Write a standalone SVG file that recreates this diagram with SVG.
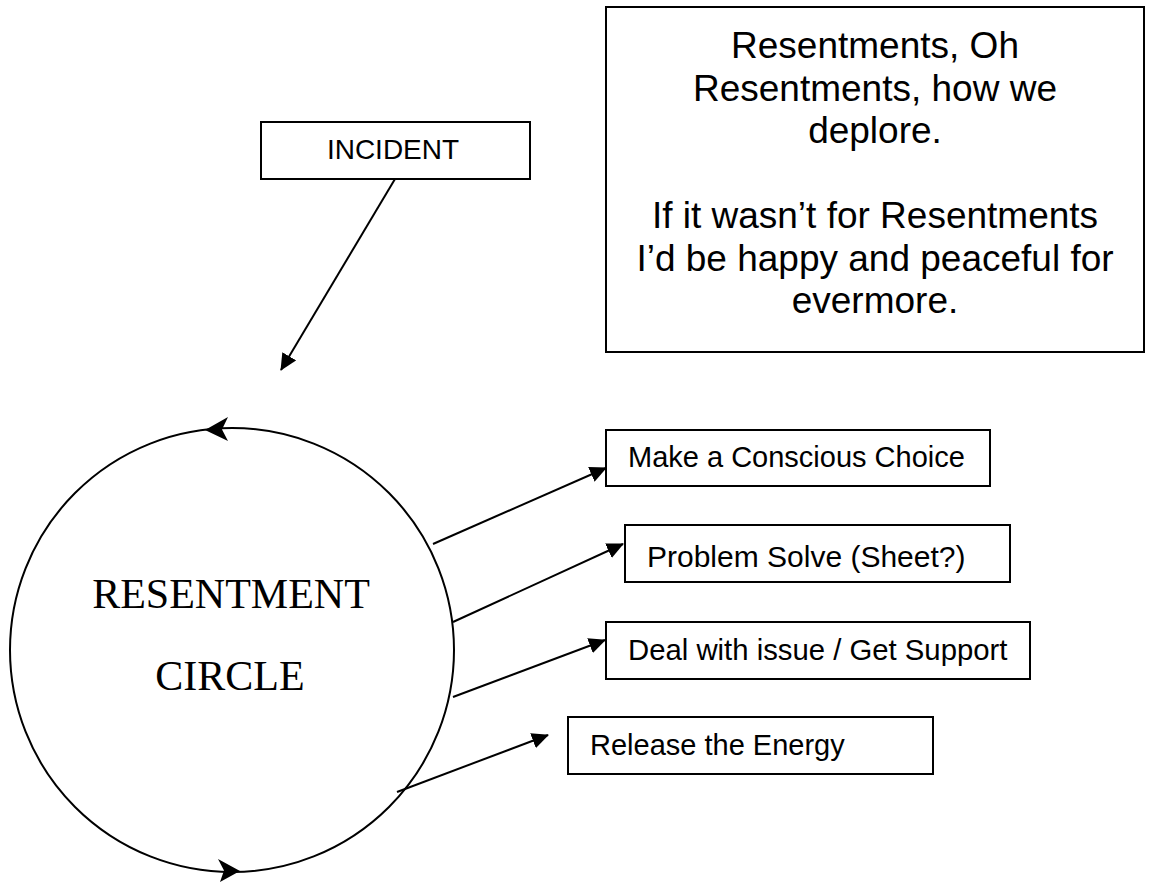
<svg xmlns="http://www.w3.org/2000/svg" width="1153" height="882" viewBox="0 0 1153 882">
  <style>
    .box { fill: #fff; stroke: #000; stroke-width: 2; }
    .sans { font-family: "Liberation Sans", Arial, sans-serif; fill: #000; }
    .serif { font-family: "Liberation Serif", "Times New Roman", serif; fill: #000; }
    .conn { stroke: #000; stroke-width: 2; fill: none; }
    .head { fill: #000; stroke: none; }
  </style>
  <defs>
    <marker id="arrow" markerUnits="userSpaceOnUse" markerWidth="17" markerHeight="16" viewBox="0 0 17 16" refX="16" refY="8" orient="auto">
      <path d="M0,0 L17,8 L0,16 Z" fill="#000"/>
    </marker>
  </defs>
  <rect width="1153" height="882" fill="#fff"/>

  <g id="poem">
    <rect class="box" x="606" y="7" width="538" height="345"/>
    <g class="sans" font-size="37" text-anchor="middle">
      <text x="875" y="58">Resentments, Oh</text>
      <text x="875" y="100.5">Resentments, how we</text>
      <text x="875" y="143">deplore.</text>
      <text x="875" y="228">If it wasn’t for Resentments</text>
      <text x="875" y="270.5">I’d be happy and peaceful for</text>
      <text x="875" y="313">evermore.</text>
    </g>
  </g>

  <g id="incident">
    <rect class="box" x="261" y="122" width="269" height="57"/>
    <text class="sans" x="393" y="159" font-size="28" text-anchor="middle">INCIDENT</text>
  </g>

  <g id="circle">
    <circle class="conn" cx="232" cy="650" r="222"/>
    <path class="head" d="M205,430 L228,417 L222,429.5 L228,441 Z"/>
    <path class="head" d="M240,871 L218,859 L224,870.5 L220,882 Z"/>
    <text class="serif" x="231" y="608" font-size="42" text-anchor="middle">RESENTMENT</text>
    <text class="serif" x="230" y="690" font-size="42" text-anchor="middle">CIRCLE</text>
  </g>

  <g id="choice">
    <rect class="box" x="606" y="430" width="384" height="56"/>
    <text class="sans" x="628" y="467" font-size="29">Make a Conscious Choice</text>
  </g>

  <g id="problem">
    <rect class="box" x="625" y="525" width="385" height="57"/>
    <text class="sans" x="647" y="567" font-size="30">Problem Solve (Sheet?)</text>
  </g>

  <g id="deal">
    <rect class="box" x="606" y="622" width="424" height="57"/>
    <text class="sans" x="628" y="660" font-size="29.3">Deal with issue / Get Support</text>
  </g>

  <g id="release">
    <rect class="box" x="568" y="717" width="365" height="57"/>
    <text class="sans" x="590" y="755" font-size="29">Release the Energy</text>
  </g>

  <g id="connectors">
    <line class="conn" x1="395" y1="179" x2="281" y2="370" marker-end="url(#arrow)"/>
    <line class="conn" x1="433" y1="544" x2="606" y2="468" marker-end="url(#arrow)"/>
    <line class="conn" x1="453" y1="622" x2="623" y2="544" marker-end="url(#arrow)"/>
    <line class="conn" x1="453" y1="697" x2="605" y2="640" marker-end="url(#arrow)"/>
    <line class="conn" x1="397" y1="792" x2="548" y2="735" marker-end="url(#arrow)"/>
  </g>
</svg>
